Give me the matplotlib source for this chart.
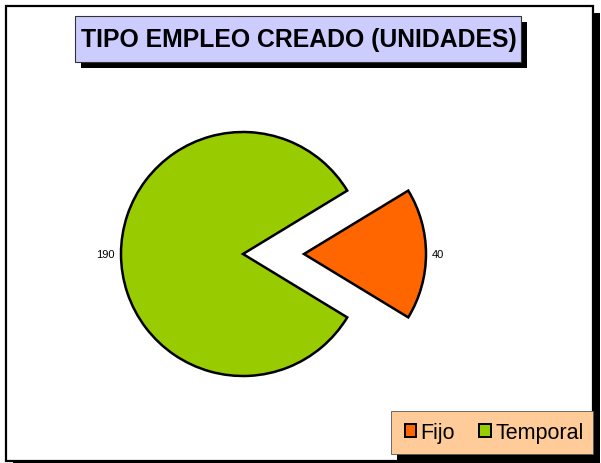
import matplotlib
matplotlib.use("Agg")
import matplotlib.pyplot as plt
from matplotlib.patches import Rectangle, Patch

plt.rcParams['font.family'] = ['Liberation Sans', 'DejaVu Sans']

# data
categories = ['Fijo', 'Temporal']
values = [40, 190]
colors = ['#FF6600', '#99CC00']
title = 'TIPO EMPLEO CREADO (UNIDADES)'

W, H = 601, 464
fig = plt.figure(figsize=(W / 100, H / 100), dpi=100)
ax = fig.add_axes([0, 0, 1, 1])


def box(x0, y0, x1, y1, face, edge='black', lw=1.0, z=1):
    # pixel coords measured from the top-left corner
    r = Rectangle((x0, H - y1), x1 - x0, y1 - y0, facecolor=face,
                  edgecolor=edge, linewidth=lw, zorder=z)
    ax.add_patch(r)


# outer frame with shadow
box(13, 14, 600, 468, 'black', edge='none', z=0)
box(6, 7, 593, 462, 'white', lw=1.6, z=0.5)

# title box with shadow
box(81, 23, 527, 69, 'black', edge='none', z=1)
box(75, 17, 521, 63, '#CCCCFF', edge='#333333', lw=0.8, z=2)
ax.text(299, H - 40, title, ha='center', va='center', fontsize=17.8,
        fontweight='bold', zorder=3)

# pie (explode is in data units here = pixels)
start = -360 * values[0] / sum(values) / 2
wedges, texts = ax.pie(values, colors=colors, explode=[61, 0],
                       center=(243, H - 255), radius=122, startangle=start,
                       labels=[str(v) for v in values], labeldistance=1.05,
                       wedgeprops=dict(edgecolor='black', linewidth=1.8),
                       textprops=dict(fontsize=8), frame=True)
for w in wedges:
    w.set_zorder(2)
# the center is offset, so fix the label alignment by hand
texts[0].set_ha('left')
texts[1].set_ha('right')

# legend box with shadow
box(397, 418, 599, 461, 'black', edge='none', z=1)
box(391, 412, 593, 455, '#FFCC99', edge='#555555', lw=0.6, z=2)
handles = [Patch(facecolor=c, edgecolor='black', linewidth=1.4) for c in colors]
leg = ax.legend(handles, categories, loc='center', frameon=False,
                bbox_to_anchor=(494 / W, 1 - 434 / H), ncol=2,
                fontsize=15.5, handlelength=0.55, handleheight=0.55,
                handletextpad=0.2, columnspacing=1.1)
leg.set_zorder(3)

ax.set_xlim(0, W)
ax.set_ylim(0, H)
ax.set_aspect('auto')
ax.axis('off')

fig.savefig('out.png', dpi=100)
